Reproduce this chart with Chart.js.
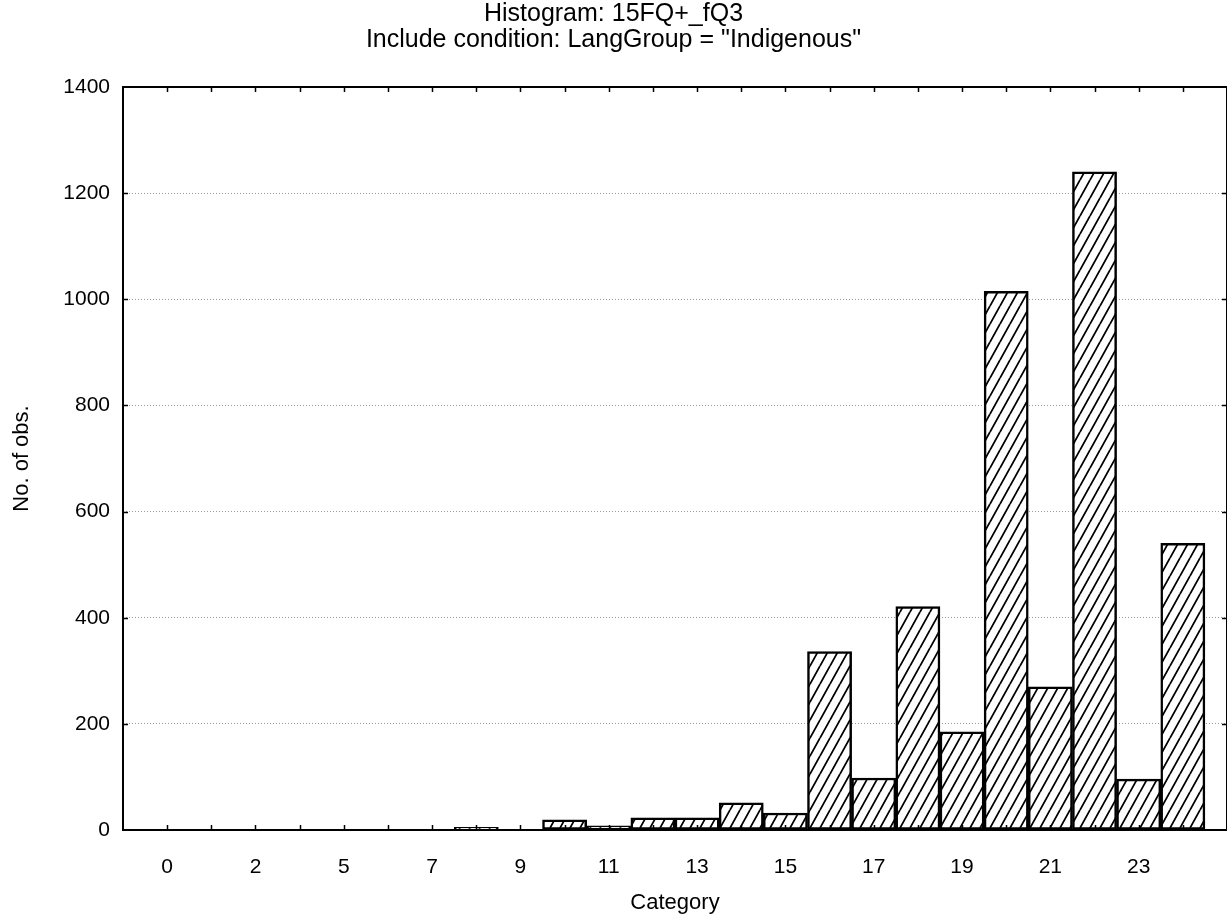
<!DOCTYPE html>
<html>
<head>
<meta charset="utf-8">
<script src="https://cdn.jsdelivr.net/npm/chart.js@4/dist/chart.umd.min.js"></script>
<style>
  html, body { margin: 0; padding: 0; background: #fff; }
  #wrap { width: 1227px; height: 922px; }
</style>
</head>
<body>
<div id="wrap"><canvas id="myChart" width="1227" height="922"></canvas></div>
<script>
// histogram data
const categories = ['0', '1', '2', '3', '5', '6', '7', '8', '9', '10', '11', '12',
  '13', '14', '15', '16', '17', '18', '19', '20', '21', '22', '23', '24'];
const counts = [0, 0, 0, 0, 1, 1, 1, 5, 1, 19, 8, 23,
  23, 51, 32, 336, 98, 421, 185, 1015, 270, 1240, 96, 540];
const yTicks = [0, 200, 400, 600, 800, 1000, 1200, 1400];
const titleLines = ['Histogram: 15FQ+_fQ3', 'Include condition: LangGroup = "Indigenous"'];

const FONT = "'Liberation Sans', Arial, Helvetica, sans-serif";

// diagonal hatch fill (///)
const makeHatch = () => {
  const w = 10, h = 18;
  const c = document.createElement('canvas');
  c.width = w; c.height = h;
  const g = c.getContext('2d');
  g.fillStyle = '#fff';
  g.fillRect(0, 0, w, h);
  g.strokeStyle = '#000';
  g.lineWidth = 1.8;
  g.beginPath();
  for (let k = -1; k <= 1; k++) {
    g.moveTo(k * w, h);
    g.lineTo(k * w + w, 0);
  }
  g.stroke();
  return g.createPattern(c, 'repeat');
}

// frame + inward tick marks on all four sides
const framePlugin = {
  id: 'frame',
  afterDatasetsDraw(chart) {
    const { ctx, chartArea: a, scales: { x, y } } = chart;
    ctx.save();
    ctx.strokeStyle = '#000';
    ctx.lineWidth = 1.5;
    ctx.beginPath();
    x.ticks.forEach(t => {
      const px = Math.round(x.getPixelForValue(t.value)) + 0.5;
      if (px <= a.left + 1 || px >= a.right - 1) return;
      ctx.moveTo(px, a.bottom); ctx.lineTo(px, a.bottom - 5);
      ctx.moveTo(px, a.top); ctx.lineTo(px, a.top + 5);
    });
    y.ticks.forEach(t => {
      const py = Math.round(y.getPixelForValue(t.value)) + 0.5;
      if (py <= a.top + 1 || py >= a.bottom - 1) return;
      ctx.moveTo(a.left, py); ctx.lineTo(a.left + 5, py);
      ctx.moveTo(a.right, py); ctx.lineTo(a.right - 5, py);
    });
    ctx.stroke();
    ctx.lineWidth = 2;
    ctx.strokeRect(a.left, a.top, a.right - a.left, a.bottom - a.top);
    ctx.restore();
  }
}

const ctx = document.getElementById('myChart');
new Chart(ctx, {
  type: 'bar',
  data: {
    datasets: [{
      data: counts.map((v, i) => ({ x: i, y: v })),
      backgroundColor: makeHatch(),
      borderColor: '#000',
      borderWidth: 2.5,
      borderSkipped: false,
      categoryPercentage: 1,
      barPercentage: 1
    }]
  },
  options: {
    responsive: false,
    animation: false,
    devicePixelRatio: 1,
    layout: { padding: 0 },
    plugins: {
      legend: { display: false },
      tooltip: { enabled: false },
      title: {
        display: true,
        text: titleLines,
        color: '#000',
        font: { family: FONT, size: 25, weight: 'normal', lineHeight: '26px' },
        padding: { top: 1, bottom: 34 }
      }
    },
    scales: {
      x: {
        type: 'linear',
        min: -1,
        max: 24,
        offset: false,
        afterFit: s => { s.height = 92; s.paddingLeft = 0; s.paddingRight = 0 },
        border: { display: false },
        grid: { display: false },
        ticks: {
          stepSize: 1,
          autoSkip: false,
          maxRotation: 0,
          padding: 17,
          color: '#000',
          font: { family: FONT, size: 21 },
          callback: v => (v >= 0 && v < categories.length && v % 2 === 0) ? categories[v] : ''
        },
        title: {
          display: true,
          text: 'Category',
          color: '#000',
          font: { family: FONT, size: 22 },
          padding: { top: 0, bottom: 6 }
        }
      },
      y: {
        min: yTicks[0],
        max: yTicks[yTicks.length - 1],
        afterFit: s => { s.width = 123; s.paddingTop = 0; s.paddingBottom = 0 },
        afterBuildTicks: s => { s.ticks = yTicks.map(v => ({ value: v })) },
        border: { display: false, dash: [1, 2] },
        grid: {
          drawTicks: false,
          color: c => (c.tick && (c.tick.value === 0 || c.tick.value === 1400)) ? 'rgba(0,0,0,0)' : '#999',
          lineWidth: 1
        },
        ticks: {
          padding: 13,
          color: '#000',
          font: { family: FONT, size: 21 },
          callback: v => String(v)
        },
        title: {
          display: true,
          text: 'No. of obs.',
          color: '#000',
          font: { family: FONT, size: 22 },
          padding: { top: 9, bottom: 0 }
        }
      }
    }
  },
  plugins: [framePlugin]
});
</script>
</body>
</html>
